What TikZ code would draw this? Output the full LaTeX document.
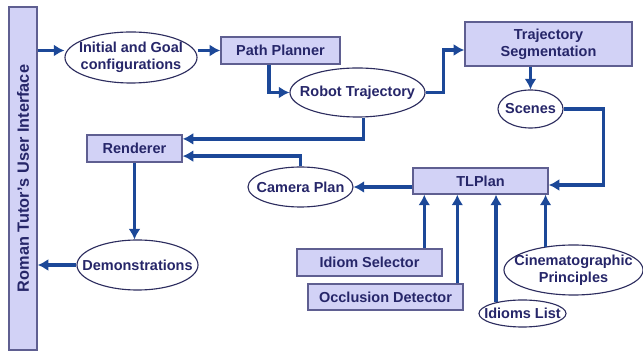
\documentclass[tikz,border=0pt]{standalone}
\usepackage{fontspec}
\setmainfont{Liberation Sans}
\usetikzlibrary{arrows.meta,positioning,shapes.geometric}
\definecolor{boxfill}{RGB}{210,210,246}
\definecolor{boxline}{RGB}{95,95,145}
\definecolor{ovalline}{RGB}{45,45,95}
\definecolor{txtnavy}{RGB}{38,38,105}
\definecolor{arrblue}{RGB}{28,72,152}
\tikzset{
    box/.style={rectangle,draw=boxline,fill=boxfill,line width=1pt,inner sep=0pt,
        text=txtnavy,font=\fontsize{10.3}{12}\selectfont\bfseries,align=center},
    oval/.style={ellipse,draw=ovalline,fill=white,line width=0.8pt,inner xsep=-10pt,inner ysep=-2pt,
        text=txtnavy,font=\fontsize{10.3}{12}\selectfont\bfseries,align=center},
    pre/.style={->,line width=2.4pt,draw=arrblue,>={Latex[length=7.5pt,width=8.5pt]}}
}

\begin{document}
\begin{tikzpicture}[x=0.025cm,y=-0.025cm]

                \useasboundingbox (0,0) rectangle (643,352);

                % left bar
                \node[box,rotate=90,minimum width=8.575cm,minimum height=0.7cm,
                      font=\fontsize{11.6}{13}\selectfont\bfseries] (user iface) at (23,178.5)
                      {Roman Tutor’s User Interface};

                % planning chain
                \node[oval,minimum width=3.3cm,minimum height=1.275cm]   (init goal)   at (131,57.5)  {Initial and Goal\\configurations};
                \node[box,minimum width=2.975cm,minimum height=0.675cm]  (path planner) at (280.5,50.5) {Path Planner};
                \node[oval,minimum width=3.375cm,minimum height=1.225cm] (robot traj)  at (357.5,92.5) {Robot Trajectory};
                \node[box,minimum width=4.175cm,minimum height=1.1cm]    (traj seg)    at (548.5,44)   {Trajectory\\Segmentation};
                \node[oval,minimum width=1.625cm,minimum height=0.95cm]  (scenes)      at (530.5,109)  {Scenes};

                % rendering
                \node[box,minimum width=2.375cm,minimum height=0.675cm]  (renderer)    at (134.5,148.5) {Renderer};
                \node[oval,minimum width=2.625cm,minimum height=1cm]     (camera plan) at (300.5,187)   {Camera Plan};
                \node[oval,minimum width=3.025cm,minimum height=1.25cm]  (demos)       at (137.5,265)   {Demonstrations};

                % camera planner and its inputs
                \node[box,minimum width=3.375cm,minimum height=0.65cm]   (tlplan)      at (480.5,181)   {TLPlan};
                \node[box,minimum width=3.625cm,minimum height=0.675cm]  (idiom sel)   at (369.5,262.5) {Idiom Selector};
                \node[box,minimum width=3.875cm,minimum height=0.65cm]   (occl det)    at (385.5,297)   {Occlusion Detector};
                \node[oval,minimum width=2.175cm,minimum height=0.675cm] (idioms list) at (522.5,313.5) {Idioms List};
                \node[oval,minimum width=3.475cm,minimum height=1.25cm]  (cine princ)  at (573.5,270)   {Cinematographic\\Principles};

                \draw[pre] (user iface.south |- path planner) -- (init goal.west |- path planner);
                \draw[pre] (init goal.east |- path planner) -- (path planner.west);
                \draw[pre] ([xshift=-0.29cm]path planner.south) |- (robot traj.west);
                \draw[pre] (robot traj.east) -- ++(18,0) |- ([yshift=-0.15cm]traj seg.west);
                \draw[pre] (scenes.north |- traj seg.south) -- (scenes.north);
                \draw[pre] (scenes.east) -- ++(40,0) |- ([yshift=-0.1cm]tlplan.east);
                \draw[pre] ([xshift=0.15cm]robot traj.south) |- ([yshift=0.24cm]renderer.east);
                \draw[pre] (camera plan.north) |- ([yshift=-0.19cm]renderer.east);
                \draw[pre] (tlplan.west |- camera plan.east) -- (camera plan.east);
                \draw[pre] (renderer.south) -- (renderer.south |- demos.north);
                \draw[pre] (demos.west) -- (demos.west -| user iface.south);
                \draw[pre] ([xshift=0.3cm]tlplan.south west |- idiom sel.north) -- ([xshift=0.3cm]tlplan.south west);
                \draw[pre] ([xshift=1.125cm]tlplan.south west |- occl det.north) -- ([xshift=1.125cm]tlplan.south west);
                \draw[pre] (idioms list.157) -- (idioms list.157 |- tlplan.south);
                \draw[pre] (cine princ.140) -- (cine princ.140 |- tlplan.south);

            \end{tikzpicture}
\end{document}
